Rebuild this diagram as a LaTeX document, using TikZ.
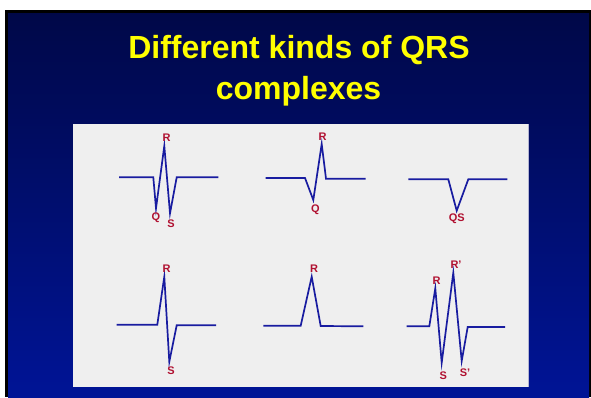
\documentclass[tikz,border=0pt]{standalone}
\usepackage{fontspec}
\setmainfont{Liberation Sans}
\definecolor{navytop}{RGB}{0,8,72}
\definecolor{navybot}{RGB}{0,20,150}
\definecolor{panel}{RGB}{239,239,239}
\definecolor{wave}{RGB}{24,28,160}
\definecolor{lbl}{RGB}{176,16,48}
\definecolor{ttl}{RGB}{255,255,0}
\tikzset{
  wv/.style={draw=wave, line width=1.7pt, line join=miter},
  lb/.style={text=lbl, font=\fontsize{11}{13}\selectfont\bfseries, inner sep=0pt},
  ttlstyle/.style={text=ttl, font=\fontsize{32}{40.7}\selectfont\bfseries, align=center, inner sep=0pt}
}
\begin{document}
\begin{tikzpicture}[x=1pt,y=-1pt]
\useasboundingbox (0,0) rectangle (591,397);
\fill[white] (0,0) rectangle (591,397);
\fill[black] (5,10) rectangle (591,397);
\shade[top color=navytop, bottom color=navybot] (8,13) rectangle (589,397);
% panel
\fill[panel] (73,124) rectangle (528,387);
\draw[color={rgb,255:red,180;green,180;blue,210}, line width=0.8pt] (528,124) -- (528,387);
% title
\node[ttlstyle, anchor=base] (t1) at (299,58.3) {Different kinds of QRS};
\node[ttlstyle, anchor=base] (t2) at (298.5,99) {complexes};
% waveform 1
\draw[wv] (119,177.3) -- (153.3,177.3) -- (156,208.3) -- (164.3,146) -- (170,213.3) -- (176.7,177.3) -- (218.3,177.3);
\node[lb] (r1) at (166.7,137.3) {R};
\node[lb] (q1) at (156,217.3) {Q};
\node[lb] (s1) at (171,224) {S};
% waveform 2
\draw[wv] (265.7,178) -- (305,178) -- (313.3,200) -- (321.7,144) -- (326,178.7) -- (365.7,178.7);
\node[lb] (r2) at (322.7,136.7) {R};
\node[lb] (q2) at (315.3,209.3) {Q};
% waveform 3
\draw[wv] (408.3,179.3) -- (448.3,179.3) -- (456.7,210.7) -- (468.3,179.3) -- (507.3,179.3);
\node[lb] (qs3) at (456.7,219) {QS};
% waveform 4
\draw[wv] (116.7,324.7) -- (157.3,324.7) -- (164.3,276.7) -- (169.3,361.7) -- (176.7,325.3) -- (216,325.3);
\node[lb] (r4) at (166.7,268.3) {R};
\node[lb] (s4) at (171,370.7) {S};
% waveform 5
\draw[wv] (263.3,325.7) -- (300.7,325.7) -- (311.7,276.7) -- (320.7,326) -- (363.3,326.3);
\node[lb] (r5) at (314,269) {R};
% waveform 6
\draw[wv] (406.7,326.3) -- (429.3,326.3) -- (435.3,288.3) -- (441.7,362.7) -- (453.3,272.7) -- (461.7,361) -- (467.7,327) -- (505,327);
\node[lb] (r6) at (436.7,280.7) {R};
\node[lb] (rp6) at (456,265) {R'};
\node[lb] (s6) at (443.3,376) {S};
\node[lb] (sp6) at (465,372.7) {S'};
\end{tikzpicture}
\end{document}
